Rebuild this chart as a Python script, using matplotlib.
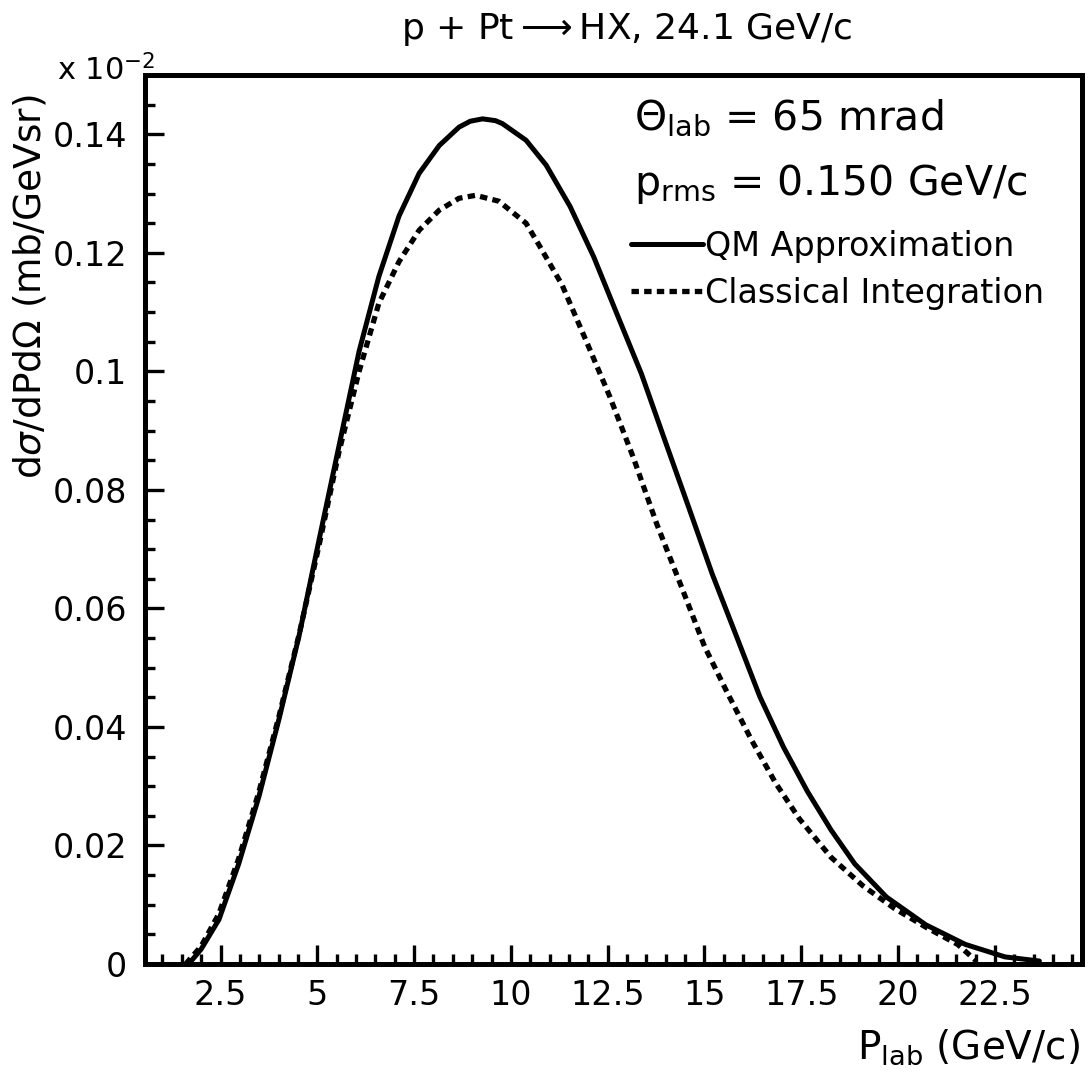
import matplotlib
matplotlib.use("Agg")
import matplotlib.pyplot as plt
from matplotlib.ticker import MultipleLocator, FuncFormatter

# ---- data ----
qm_x = [1.68, 2.0, 2.46, 2.97, 3.49, 4.01, 4.53, 5.04, 5.56, 6.08, 6.59, 7.11, 7.63,
        8.15, 8.66, 8.95, 9.27, 9.6, 9.78, 10.39, 10.91, 11.53, 12.14, 12.75, 13.37,
        13.98, 14.59, 15.20, 15.82, 16.43, 17.04, 17.66, 18.27, 18.88, 19.70,
        20.72, 21.74, 22.76, 23.65]
qm_y = [0.0, 0.0025, 0.0075, 0.0169, 0.0282, 0.0413, 0.0554, 0.0714, 0.0874, 0.1034,
        0.1160, 0.1262, 0.1334, 0.1381, 0.1412, 0.1422, 0.1426, 0.1423, 0.1418,
        0.1390, 0.1348, 0.1278, 0.1193, 0.1095, 0.0996, 0.0883, 0.0771, 0.0658,
        0.0554, 0.0451, 0.0366, 0.0291, 0.0226, 0.0169, 0.0113, 0.0066, 0.0033,
        0.0012, 0.0005]

cl_x = [1.6, 2.0, 2.46, 2.97, 3.49, 4.01, 4.53, 5.04, 5.56, 6.08, 6.59, 7.11, 7.63,
        8.15, 8.66, 9.09, 9.69, 10.39, 10.71, 11.32, 11.94, 12.55, 13.16, 13.77,
        14.39, 15.0, 15.61, 16.23, 16.84, 17.45, 18.27, 19.09, 19.90, 20.72, 21.54,
        22.02]
cl_y = [0.0, 0.0030, 0.0085, 0.0178, 0.0290, 0.0418, 0.0556, 0.0705, 0.0864, 0.1000,
        0.1115, 0.1185, 0.1238, 0.1272, 0.1292, 0.1297, 0.1287, 0.1250, 0.1215,
        0.1146, 0.1052, 0.0958, 0.0855, 0.0742, 0.0639, 0.0536, 0.0455, 0.0376,
        0.0305, 0.0245, 0.0180, 0.0132, 0.0094, 0.0062, 0.0033, 0.0005]

series_labels = ["QM Approximation", "Classical Integration"]
title_text = r"p + Pt$\longrightarrow$HX, 24.1 GeV/c"
ylabel_text = r"d$\sigma$/dPd$\Omega$ (mb/GeVsr)"
xlabel_text = r"P$_{\rm lab}$ (GeV/c)"
scale_text = r"x 10$^{-2}$"
ann1 = r"$\Theta_{\rm lab}$ = 65 mrad"
ann2 = r"p$_{\rm rms}$ = 0.150 GeV/c"

plt.rcParams['font.family'] = ['DejaVu Sans']
plt.rcParams['mathtext.fontset'] = 'dejavusans'

W, H = 1090, 1073
fig = plt.figure(figsize=(W / 100, H / 100), dpi=100)
ax = fig.add_axes([145 / W, 1 - 964 / H, (1082 - 145) / W, (964 - 75) / H])

ax.plot(qm_x, qm_y, color='black', lw=3.6, solid_capstyle='round',
        solid_joinstyle='round', label=series_labels[0])
ax.plot(cl_x, cl_y, color='black', lw=3.8, linestyle=(0, (1.4, 1.0)),
        label=series_labels[1])

ax.set_xlim(0.55, 24.75)
ax.set_ylim(0, 0.15)

ax.xaxis.set_major_locator(MultipleLocator(2.5))
ax.xaxis.set_minor_locator(MultipleLocator(0.5))
ax.yaxis.set_major_locator(MultipleLocator(0.02))
ax.yaxis.set_minor_locator(MultipleLocator(0.005))
fmt = FuncFormatter(lambda v, p: "%g" % round(v, 4))
ax.xaxis.set_major_formatter(fmt)
ax.yaxis.set_major_formatter(fmt)

ax.tick_params(which='both', direction='in', top=False, right=False, width=2.4,
               labelsize=24)
ax.tick_params(which='major', length=14)
ax.tick_params(which='minor', length=7)
ax.tick_params(axis='y', pad=13)
ax.tick_params(axis='x', pad=11)
for s in ax.spines.values():
    s.set_linewidth(3.6)

fig.text(627 / W, 1 - 30 / H, title_text, ha='center', va='center', fontsize=26)
fig.text(57 / W, 1 - 70 / H, scale_text, ha='left', va='center', fontsize=22)
fig.text(30 / W, 1 - 287 / H, ylabel_text, ha='center', va='center',
         rotation=90, fontsize=27)
fig.text(1080 / W, 1 - 1059 / H, xlabel_text, ha='right', va='baseline',
         fontsize=28)

fig.text(634 / W, 1 - 118 / H, ann1, ha='left', va='center', fontsize=29.5)
fig.text(634 / W, 1 - 184 / H, ann2, ha='left', va='center', fontsize=29.5)

leg = ax.legend(loc='upper left', bbox_to_anchor=(631 / W, 1 - 230 / H),
                bbox_transform=fig.transFigure, frameon=False, fontsize=24,
                handlelength=2.15, handletextpad=0.08, labelspacing=0.42,
                borderpad=0, borderaxespad=0)

fig.savefig("out.png", dpi=100)
